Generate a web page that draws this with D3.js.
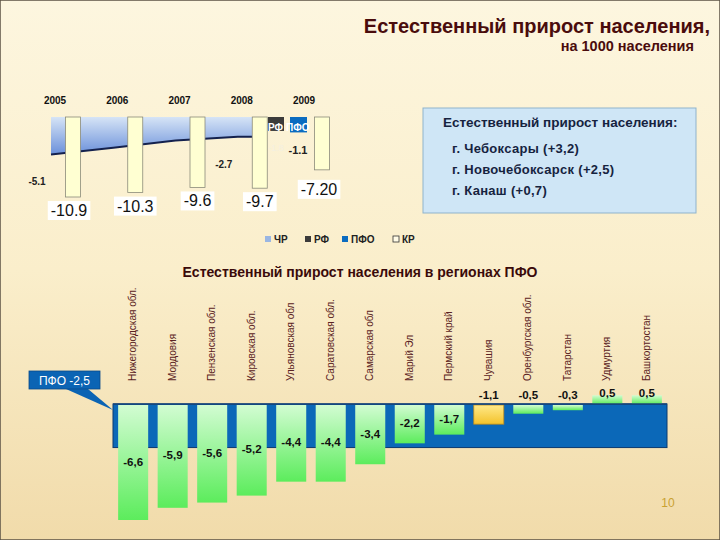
<!DOCTYPE html>
<html>
<head>
<meta charset="utf-8">
<script src="https://cdn.jsdelivr.net/npm/d3@7"></script>
<style>
  body { margin: 0; }
  svg { display: block; font-family: "Liberation Sans", Arial, sans-serif; }
</style>
</head>
<body>
<svg id="chart"></svg>
<script>
// --- data ---
const years = ["2005", "2006", "2007", "2008", "2009"];
const chrYears = ["2005", "2006", "2007", "2008"];
const chrValues = [-5.1, -4.2, -3.2, -2.7];
const chrLabels = ["-5.1", "", "", "-2.7"];
const krValues = [-10.9, -10.3, -9.6, -9.7, -7.2];
const krLabels = ["-10.9", "-10.3", "-9.6", "-9.7", "-7.20"];
const rf2009 = -1.9;
const pfo2009 = -2.1;
const chr2009Label = "-1.1";
const rf2009Label = "-1.8";
const legendItems = ["ЧР", "РФ", "ПФО", "КР"];
const cityLines = ["г. Чебоксары (+3,2)", "г. Новочебоксарск (+2,5)", "г. Канаш (+0,7)"];

const regions = ["Нижегородская обл.", "Мордовия", "Пензенская обл.", "Кировская обл.",
  "Ульяновская обл", "Саратовская обл.", "Самарская обл", "Марий Эл", "Пермский край",
  "Чувашия", "Оренбургская обл.", "Татарстан", "Удмуртия", "Башкортостан"];
const regionValues = [-6.6, -5.9, -5.6, -5.2, -4.4, -4.4, -3.4, -2.2, -1.7, -1.1, -0.5, -0.3, 0.5, 0.5];
const pfoAverage = -2.5;

const W = 720, H = 540;
const svg = d3.select("#chart").attr("width", W).attr("height", H);
const defs = svg.append("defs");

function grad(id, stops) {
  const g = defs.append("linearGradient").attr("id", id)
    .attr("x1", 0).attr("y1", 0).attr("x2", 0).attr("y2", 1);
  stops.forEach(s => g.append("stop").attr("offset", s[0]).attr("stop-color", s[1]));
}
grad("bg", [[0, "#fdf6df"], [0.5, "#faeecb"], [1, "#f1dbaa"]]);
grad("area", [[0, "#d6e4f6"], [1, "#6a90da"]]);
grad("green", [[0, "#d2fcd2"], [1, "#5cec5c"]]);
grad("gold", [[0, "#ffe98a"], [1, "#f3c22a"]]);

// background
svg.append("rect").attr("width", W).attr("height", H).attr("fill", "url(#bg)")
  .attr("stroke", "#5b5244").attr("stroke-width", 1.5);

// title
svg.append("text").attr("x", 710).attr("y", 33).attr("text-anchor", "end")
  .attr("font-size", 20).attr("font-weight", "bold").attr("fill", "#4a0c0c")
  .text("Естественный прирост населения,");
svg.append("text").attr("x", 694).attr("y", 51).attr("text-anchor", "end")
  .attr("font-size", 14.5).attr("font-weight", "bold").attr("fill", "#4a0c0c")
  .text("на 1000 населения");

// ---------------- top chart ----------------
const x = d3.scalePoint().domain(years).range([73, 322]);
const yTop = d3.scaleLinear().domain([0, -10.9]).range([117, 197]);
const barW = 15;
const areaX = d => x(d) - 22;

const chrData = chrYears.map((yr, i) => ({ x: areaX(yr), v: chrValues[i] }));
chrData.push({ x: x("2008") - barW / 2, v: chrValues[chrValues.length - 1] });

svg.append("path").datum(chrData)
  .attr("fill", "url(#area)")
  .attr("d", d3.area().x(d => d.x).y0(yTop(0)).y1(d => yTop(d.v)));
svg.append("path").datum(chrData)
  .attr("fill", "none").attr("stroke", "#14214d").attr("stroke-width", 2)
  .attr("d", d3.line().x(d => d.x).y(d => yTop(d.v)));

// year labels
svg.selectAll(".yr").data(years).join("text")
  .attr("x", d => x(d) - 18).attr("y", 104).attr("text-anchor", "middle")
  .attr("font-size", 10).attr("font-weight", "bold").attr("fill", "#111")
  .text(d => d);

// 2009 РФ / ПФО bars
svg.append("rect").attr("x", x("2009") - 54).attr("y", yTop(0)).attr("width", 16)
  .attr("height", yTop(rf2009) - yTop(0)).attr("fill", "#3b3b3b");
svg.append("rect").attr("x", x("2009") - 32).attr("y", yTop(0)).attr("width", 17)
  .attr("height", yTop(pfo2009) - yTop(0)).attr("fill", "#0b6cc0");
svg.append("text").attr("x", x("2009") - 54).attr("y", 131)
  .attr("font-size", 10).attr("font-weight", "bold").attr("fill", "#fff").text("РФ");
svg.append("text").attr("x", x("2009") - 36).attr("y", 131)
  .attr("font-size", 10).attr("font-weight", "bold").attr("fill", "#fff").text("ПФО");
svg.append("text").attr("x", x("2009") - 46).attr("y", 151).attr("text-anchor", "middle")
  .attr("font-size", 9).attr("fill", "#f4f0e0").text(rf2009Label);
svg.append("text").attr("x", x("2009") - 24).attr("y", 154).attr("text-anchor", "middle")
  .attr("font-size", 11).attr("font-weight", "bold").attr("fill", "#222").text(chr2009Label);

// КР bars
svg.selectAll(".kr").data(krValues).join("rect")
  .attr("x", (d, i) => x(years[i]) - barW / 2).attr("y", yTop(0))
  .attr("width", barW).attr("height", d => yTop(d) - yTop(0))
  .attr("fill", "#ffffd2").attr("stroke", "#8a8a7a").attr("stroke-width", 0.8);

// ЧР labels
svg.selectAll(".chrl").data(chrData.slice(0, chrLabels.length)).join("text")
  .attr("x", d => d.x - 14).attr("y", d => yTop(d.v) + 31).attr("text-anchor", "middle")
  .attr("font-size", 10).attr("font-weight", "bold").attr("fill", "#222")
  .text((d, i) => chrLabels[i]);

// КР labels with white boxes
const krG = svg.selectAll(".krl").data(krValues).join("g");
krG.append("text")
  .attr("x", (d, i) => x(years[i]) - (i === 0 ? 4 : 0) + (i === 4 ? -3 : 0))
  .attr("y", (d, i) => yTop(d) + (i === 4 ? 25 : 19)).attr("text-anchor", "middle")
  .attr("font-size", 16).attr("fill", "#111")
  .text((d, i) => krLabels[i]);
krG.each(function () {
  const t = d3.select(this).select("text");
  const b = t.node().getBBox();
  d3.select(this).insert("rect", "text")
    .attr("x", b.x - 3).attr("y", b.y - 1).attr("width", b.width + 6).attr("height", b.height + 2)
    .attr("fill", "#fff");
});

// legend
const legendX = [265, 305, 342, 393];
const legendFill = ["#9ab6e2", "#3b3b3b", "#0b6cc0", "#fffbe6"];
const lg = svg.selectAll(".lg").data(legendItems).join("g")
  .attr("transform", (d, i) => `translate(${legendX[i]},240)`);
lg.append("rect").attr("x", 0).attr("y", -4).attr("width", 6).attr("height", 6)
  .attr("fill", (d, i) => legendFill[i])
  .attr("stroke", (d, i) => i === 3 ? "#333" : "none").attr("stroke-width", 0.8);
lg.append("text").attr("x", 9).attr("y", 3).attr("font-size", 10).attr("font-weight", "bold")
  .attr("fill", "#222").text(d => d);

// info box
svg.append("rect").attr("x", 423).attr("y", 108).attr("width", 273).attr("height", 105)
  .attr("fill", "#cfe6f6").attr("stroke", "#8fb3cc").attr("stroke-width", 1);
svg.append("text").attr("x", 443).attr("y", 127).attr("font-size", 13.5).attr("font-weight", "bold")
  .attr("fill", "#16233f").text("Естественный прирост населения:");
svg.selectAll(".city").data(cityLines).join("text")
  .attr("x", 452).attr("y", (d, i) => 153 + i * 21).attr("font-size", 13).attr("font-weight", "bold")
  .attr("letter-spacing", 0.3).attr("fill", "#16233f").text(d => d);

// ---------------- bottom chart ----------------
svg.append("text").attr("x", 360).attr("y", 277).attr("text-anchor", "middle")
  .attr("font-size", 14).attr("font-weight", "bold").attr("fill", "#3a0a0a")
  .text("Естественный прирост населения в регионах ПФО");

const xb = d3.scaleBand().domain(regions).range([113, 667]).paddingInner(0.24).paddingOuter(0.13);
const yb = d3.scaleLinear().domain([0, -6.6]).range([404, 519]);

// ПФО average band
svg.append("rect").attr("x", 113).attr("y", yb(0)).attr("width", 554)
  .attr("height", yb(pfoAverage) - yb(0))
  .attr("fill", "#0b68b8").attr("stroke", "#0a3a70").attr("stroke-width", 1);

svg.selectAll(".rb").data(regionValues).join("rect")
  .attr("x", (d, i) => xb(regions[i])).attr("width", xb.bandwidth())
  .attr("y", d => yb(Math.max(0, d)) + (d < 0 ? 1 : 0))
  .attr("height", d => Math.abs(yb(d) - yb(0)))
  .attr("fill", (d, i) => regions[i] === "Чувашия" ? "url(#gold)" : "url(#green)")
  .attr("stroke", (d, i) => regions[i] === "Чувашия" ? "#b88a20" : "none")
  .attr("stroke-width", 0.8);

// zero line
svg.append("line").attr("x1", 113).attr("x2", 667).attr("y1", yb(0)).attr("y2", yb(0))
  .attr("stroke", "#17457a").attr("stroke-width", 1.5);

const fmt = v => d3.format(".1f")(v).replace("−", "-").replace(".", ",");
svg.selectAll(".rv").data(regionValues).join("text")
  .attr("x", (d, i) => xb(regions[i]) + xb.bandwidth() / 2)
  .attr("y", d => d <= -1.5 ? (yb(d) + yb(0)) / 2 + 4 : yb(0) - 5 - (d > 0 ? 2 : 0))
  .attr("text-anchor", "middle").attr("font-size", 11.5).attr("font-weight", "bold")
  .attr("fill", "#111").text(d => fmt(d));

svg.selectAll(".rl").data(regions).join("text")
  .attr("transform", d => `translate(${xb(d) + xb.bandwidth() / 2 + 3},381) rotate(-90)`)
  .attr("font-size", 10).attr("fill", "#5a2222")
  .text(d => d);

// callout
svg.append("polygon")
  .attr("points", [[66, 389], [88, 389], [113, 410]].join(" "))
  .attr("fill", "#0b64b4");
svg.append("rect").attr("x", 29).attr("y", 371).attr("width", 71).attr("height", 18)
  .attr("fill", "#0b64b4").attr("stroke", "#0a4a8a").attr("stroke-width", 0.8);
svg.append("text").attr("x", 64.5).attr("y", 384.5).attr("text-anchor", "middle")
  .attr("font-size", 12).attr("fill", "#fff").text("ПФО " + fmt(pfoAverage));

// page number
svg.append("text").attr("x", 668).attr("y", 507).attr("text-anchor", "middle")
  .attr("font-size", 12).attr("fill", "#c9a132").text("10");
</script>
</body>
</html>
